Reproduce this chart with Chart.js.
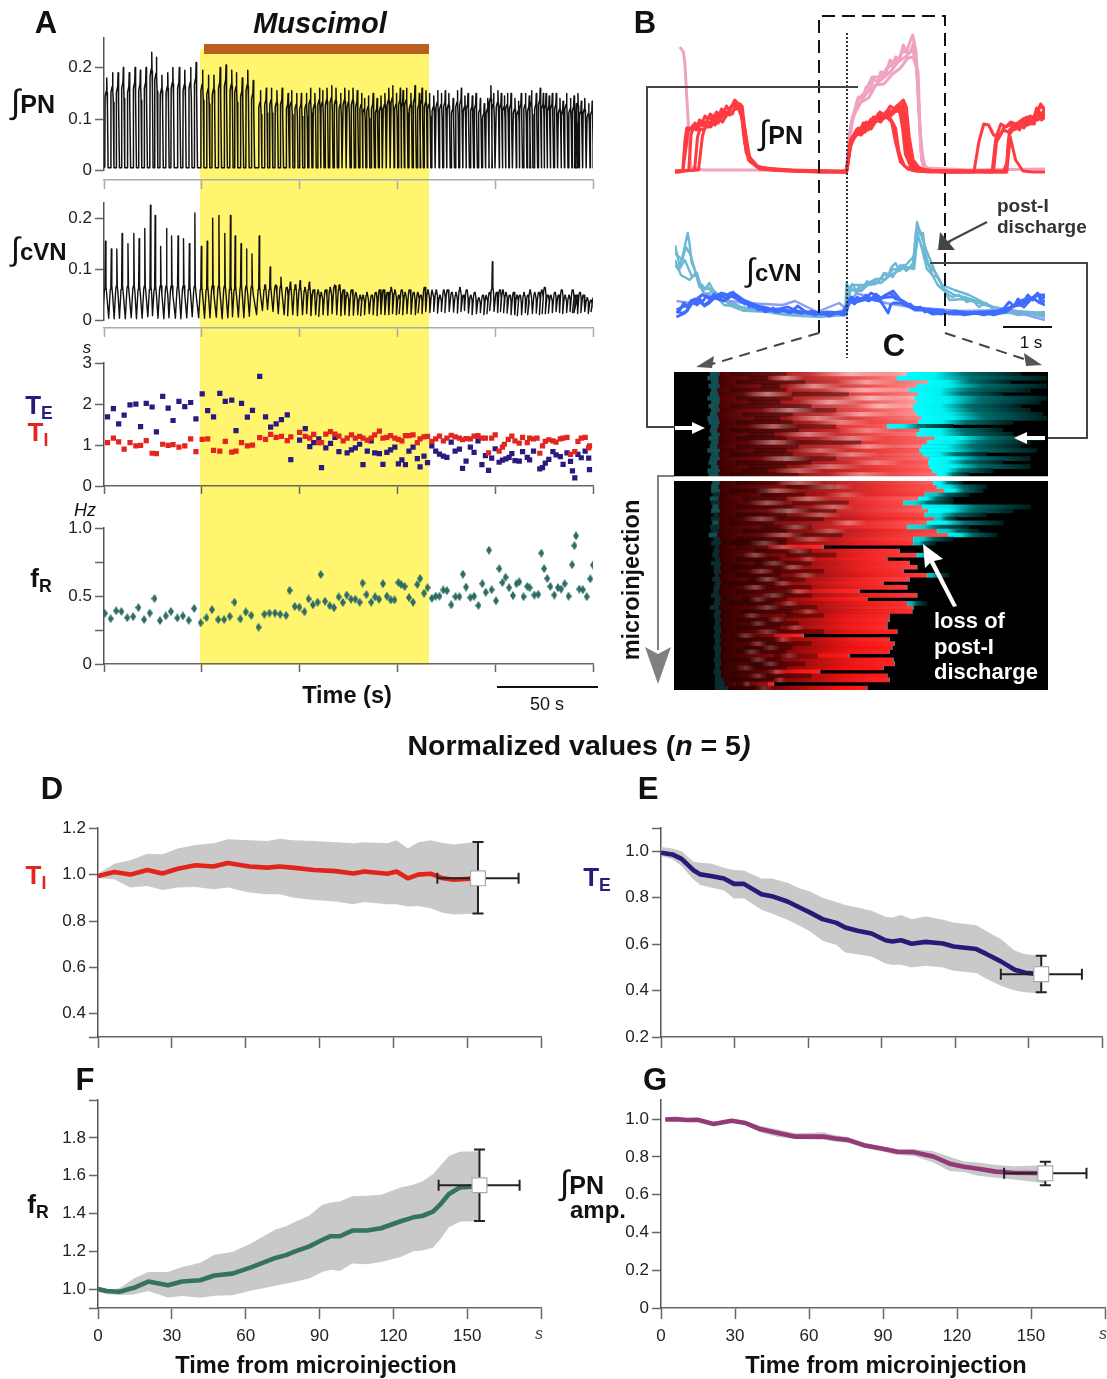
<!DOCTYPE html>
<html>
<head>
<meta charset="utf-8">
<script src="https://cdn.jsdelivr.net/npm/chart.js@4"></script>
<style>
html,body{margin:0;padding:0;background:#fff}
#fig{position:relative;width:1107px;height:1379px;overflow:hidden;font-family:"Liberation Sans",Arial,sans-serif;color:#111}
#fig canvas{position:absolute;z-index:1}
#band{position:absolute;left:200px;top:49px;width:229px;height:616px;background:#FFF56E;z-index:0}
#bar{position:absolute;left:204px;top:44px;width:225px;height:10px;background:#B9601F;z-index:2}
#over{position:absolute;left:0;top:0;z-index:3}
.t{position:absolute;line-height:1;white-space:nowrap;z-index:4;transform:translate(-50%,-50%)}
.l{transform:translate(0,-50%)}
.b{font-weight:bold}
.k{font-size:31px;font-weight:bold}
.sub{font-size:.68em;position:relative;top:.3em}
.int{font-weight:normal;font-size:1.35em}
</style>
</head>
<body>
<div id="fig">
<div id="band"></div><div id="bar"></div>
<svg id="over" width="1107" height="1379">
 <g fill="none" stroke="#111" stroke-width="2" stroke-dasharray="13 7">
  <path d="M819 333V16H945V333"/>
 </g>
 <path d="M847 33V358" stroke="#333" stroke-width="2" stroke-dasharray="2 2" fill="none"/>
 <g fill="none" stroke="#444" stroke-width="2" stroke-dasharray="11 7">
  <path d="M819 333L712 364"/><path d="M945 333L1030 361"/>
 </g>
 <path d="M696 367L714 356L712 368Z" fill="#555"/><path d="M1042 365L1024 353L1026 366Z" fill="#555"/>
 <g fill="none" stroke="#444" stroke-width="2">
  <path d="M858 87H647V427H676"/><path d="M930 263H1087V438H1048"/><path d="M987 222L948 242"/>
 </g>
 <path d="M937 250L953 239L945 250H958Z" fill="#444"/>
 <path d="M940 232L938 250L955 250Z" fill="#444"/>
 <path d="M674 476H658V650" fill="none" stroke="#808080" stroke-width="2"/>
 <path d="M645 647L658 654L671 647L658 684Z" fill="#808080"/>
 <g fill="#fff">
  <path d="M675 426H692V422L705 428L692 434V430H675Z"/>
  <path d="M1045 436H1027V432L1014 438L1027 444V440H1045Z"/>
  <path d="M923 544L943 559L934 561L957 606L953 607L930 563L925 568Z"/>
 </g>
 <rect x="497" y="686" width="101" height="2" fill="#111"/>
 <rect x="1003" y="326" width="49" height="2" fill="#111"/>
</svg>
<div class="t k" style="left:46px;top:22px">A</div>
<div class="t b" style="left:320px;top:23px;font-size:29px;font-style:italic">Muscimol</div>
<div class="t l b" style="left:11px;top:102px;font-size:25px"><span class="int">∫</span>PN</div>
<div class="t l b" style="left:11px;top:249px;font-size:24px"><span class="int">∫</span>cVN</div>
<div class="t" style="left:87px;top:347px;font-size:17px;font-style:italic">s</div>
<div class="t" style="left:85px;top:510px;font-size:18px;font-style:italic">Hz</div>
<div class="t b" style="left:39px;top:405px;font-size:26px;color:#2A1A80">T<span class="sub">E</span></div>
<div class="t b" style="left:38px;top:432px;font-size:26px;color:#E4241F">T<span class="sub">I</span></div>
<div class="t b" style="left:41px;top:578px;font-size:26px">f<span class="sub">R</span></div>
<div class="t b" style="left:347px;top:696px;font-size:23.5px">Time (s)</div>
<div class="t" style="left:547px;top:704px;font-size:18px">50 s</div>
<div class="t k" style="left:645px;top:22px">B</div>
<div class="t l b" style="left:759px;top:133px;font-size:25px"><span class="int">∫</span>PN</div>
<div class="t l b" style="left:746px;top:270px;font-size:24px"><span class="int">∫</span>cVN</div>
<div class="t l b" style="left:997px;top:205px;font-size:19px;color:#333">post-I</div>
<div class="t l b" style="left:997px;top:226px;font-size:19px;color:#333">discharge</div>
<div class="t k" style="left:894px;top:345px">C</div>
<div class="t" style="left:1031px;top:342px;font-size:17px">1 s</div>
<div class="t b" style="left:632px;top:580px;font-size:23.5px;transform:translate(-50%,-50%) rotate(-90deg)">microinjection</div>
<div class="t l b" style="left:934px;top:621px;font-size:22px;color:#fff">loss of</div>
<div class="t l b" style="left:934px;top:647px;font-size:22px;color:#fff">post-I</div>
<div class="t l b" style="left:934px;top:672px;font-size:22px;color:#fff">discharge</div>
<div class="t b" style="left:579px;top:745px;font-size:28.5px">Normalized values (<i>n</i> = 5<i>)</i></div>
<div class="t k" style="left:52px;top:788px">D</div>
<div class="t k" style="left:648px;top:788px">E</div>
<div class="t k" style="left:85px;top:1079px">F</div>
<div class="t k" style="left:655px;top:1079px">G</div>
<div class="t b" style="left:36px;top:875px;font-size:26px;color:#E4241F">T<span class="sub">I</span></div>
<div class="t b" style="left:597px;top:877px;font-size:26px;color:#2A1A80">T<span class="sub">E</span></div>
<div class="t b" style="left:38px;top:1204px;font-size:26px">f<span class="sub">R</span></div>
<div class="t l b" style="left:560px;top:1183px;font-size:25px"><span class="int">∫</span>PN</div>
<div class="t l b" style="left:570px;top:1210px;font-size:24px">amp.</div>
<div class="t" style="left:539px;top:1334px;font-size:16px;font-style:italic;color:#444">s</div>
<div class="t" style="left:1103px;top:1334px;font-size:16px;font-style:italic;color:#444">s</div>
<div class="t b" style="left:316px;top:1366px;font-size:23.6px">Time from microinjection</div>
<div class="t b" style="left:886px;top:1366px;font-size:23.6px">Time from microinjection</div>
</div>
<script>
// panel A, cycle by cycle (s)
const cycleT = [.4,3.4,6.2,8.9,11.9,14.9,17.6,20.5,23.4,25.8,28.6,
 31.6,34.2,37.5,40.3,43.3,46.1,49.4,52.4,55.2,58.4,
 61.4,64.3,66.7,69.7,72.5,75.3,79,82,84.6,87.4,
 90.1,93.1,94.9,97.5,99.9,102.5,104.6,106.8,109.2,110.8,
 113,115.4,117.6,120,122.1,124.1,126.3,128.5,130.7,132.2,
 134.2,136.6,138.6,140.6,142.6,144.6,146.6,148.5,150.5,151.9,
 153.7,155.9,158,160.2,161.6,163.6,165.4,167.6,169.6,171.5,
 173.5,175.3,177.5,179.7,181.7,183.5,185.1,187.3,189.2,191.4,
 193.4,195.2,196.8,198.2,200.4,202.1,203.7,205.3,207.1,209.1,
 210.9,212.3,214.5,216.4,217.6,220,222,223.6,225,226.6,
 228.2,230.2,232.1,233.7,235.5,237.5,239.3,240.5,241.3,243,
 244.8,246.8,248.6,250];
const fR = [.373,.334,.392,.387,.341,.349,.416,.327,.375,.482,.32,
 .354,.387,.339,.354,.322,.409,.303,.341,.40,.327,
 .327,.351,.455,.332,.383,.358,.271,.366,.375,.375,
 .366,.358,.542,.424,.419,.385,.479,.436,.455,.659,
 .462,.429,.414,.494,.453,.508,.477,.477,.455,.596,
 .511,.455,.494,.477,.591,.499,.472,.472,.60,.586,
 .571,.489,.455,.586,.63,.521,.562,.484,.499,.499,
 .545,.54,.436,.496,.496,.661,.567,.489,.499,.431,
 .591,.528,.838,.547,.465,.702,.60,.639,.562,.504,
 .591,.605,.496,.571,.562,.508,.513,.816,.702,.63,
 .571,.508,.562,.552,.591,.499,.731,.872,.944,.552,
 .547,.496,.627,.729];
const pnPeak = [.18,.19,.19,.2,.19,.2,.195,.2,.23,.22,.185,
 .19,.2,.2,.195,.2,.21,.195,.185,.185,.2,
 .205,.195,.19,.18,.195,.175,.155,.16,.16,.155,
 .16,.15,.155,.15,.15,.15,.16,.15,.16,.155,
 .16,.165,.16,.15,.16,.155,.16,.155,.15,.14,
 .145,.15,.14,.145,.15,.16,.165,.15,.16,.155,
 .16,.15,.165,.15,.16,.155,.15,.145,.155,.15,
 .155,.15,.14,.155,.16,.145,.15,.145,.15,.14,
 .13,.14,.165,.15,.155,.15,.145,.15,.15,.14,
 .135,.15,.15,.145,.155,.15,.16,.15,.15,.145,
 .15,.15,.14,.135,.15,.14,.145,.13,.15,.135,
 .14,.13,.135,.135];
const cvnPeak = [.155,.14,.14,.17,.15,.17,.16,.18,.225,.205,.145,
 .18,.165,.165,.16,.15,.21,.145,.155,.2,.205,
 .17,.205,.165,.15,.14,.13,.165,.07,.105,.07,
 .085,.065,.075,.07,.078,.065,.075,.06,.06,.055,
 .06,.065,.07,.07,.06,.055,.06,.055,.05,.05,
 .055,.05,.055,.06,.06,.055,.065,.06,.05,.06,
 .055,.06,.055,.055,.05,.065,.06,.06,.06,.05,
 .06,.06,.055,.055,.065,.05,.06,.05,.055,.045,
 .05,.05,.055,.115,.055,.06,.06,.055,.05,.055,
 .05,.05,.055,.05,.06,.055,.055,.06,.065,.05,
 .05,.055,.05,.06,.05,.05,.06,.05,.05,.055,
 .05,.045,.04,.045];
const cvnFloor = [.012,.005,.004,.005,.004,.006,.004,.005,.008,.01,.005,
 .004,.006,.005,.004,.006,.008,.006,.005,.006,.007,
 .004,.006,.008,.007,.006,.009,.012,.02,.022,.018,
 .014,.012,.01,.012,.01,.012,.014,.01,.012,.009,
 .012,.011,.014,.012,.01,.012,.01,.011,.012,.01,
 .012,.014,.012,.01,.013,.012,.012,.014,.012,.014,
 .012,.014,.013,.012,.016,.014,.018,.016,.018,.015,
 .018,.016,.018,.017,.015,.018,.02,.015,.012,.014,
 .016,.012,.014,.02,.018,.016,.018,.016,.015,.012,
 .012,.01,.012,.016,.012,.014,.015,.012,.014,.014,
 .015,.016,.018,.016,.014,.016,.018,.016,.016,.014,
 .016,.018,.014,.018];

const teT = [1.8,4.8,7.5,10.3,13.3,16.3,18.7,21.6,24.6,26.8,30,32.8,35.3,38.3,41.3,44.3,47,50.2,53,56,59.2,62,65.3,67.5,70.3,73.3,75.9,79.6,82.6,85.2,88,90.7,93.7,95.5,100,102.9,105.2,107.2,109.8,111.2,113.4,115.8,118.1,120.1,124.3,126.5,128.5,130.7,132.4,134.6,136.6,138.4,140.8,142.6,144.6,146.5,148.7,150.5,152.3,154.1,155.9,158,160.2,161.6,163.6,165.4,167.6,169.6,171.5,173.5,175.3,177.5,179.5,181.7,183.3,185.1,187.3,189.2,191.2,193.2,195,196.6,198.2,200,202,203.7,205.5,207.1,208.5,210.1,212.3,214,216.4,217.6,219.6,222.8,224.2,225.6,227.4,229.5,231.1,233.3,234.7,236.7,238.5,239.5,240.7,242.3,244,246,247.8,248.2];
const te = [1.69,1.89,1.52,1.73,1.98,2.0,1.45,2.02,1.93,1.32,2.19,1.90,1.60,2.07,1.94,2.04,1.64,2.25,1.84,1.69,2.26,2.07,2.10,1.35,2.02,1.68,1.85,2.68,1.69,1.44,1.52,1.62,1.74,.645,1.12,1.40,.96,1.06,1.15,.45,.93,1.04,1.19,.84,.81,.88,.93,1.02,.52,.85,1.10,.81,.79,.53,.82,.88,.95,.54,.64,.52,.85,.95,.67,.47,.73,.57,.98,.85,.78,.73,.70,1.07,.85,.90,.43,.61,.95,.82,1.10,.52,.74,.38,.68,.91,.58,.63,.66,.70,.79,.62,.61,.84,.70,.64,.85,.42,.45,.56,.65,.84,.76,.72,.53,.81,.60,.37,.20,.77,.69,.85,.68,.40];
const tiT = [1.8,4.8,7.5,10.3,13.3,16.3,18.7,21.6,24.6,26.8,30,32.8,35.3,38.3,41.3,44.3,47,50.2,53,56,59.2,62,65.3,67.5,70.3,73.3,75.9,79.6,82.6,85.2,88,90.7,93.7,95.5,100,102.9,105.2,107.2,109.8,111.2,113.4,115.8,118.1,120.1,122.3,124.3,126.5,128.5,130.7,132.4,134.6,136.6,138.4,140.8,142.6,144.6,146.5,148.7,150.5,152.3,154.1,155.9,158,160.2,161.6,163.6,165.4,167.6,169.6,171.5,173.5,175.3,177.5,179.5,181.7,183.3,185.1,187.3,189.2,191.2,193.2,195,196.6,198.2,200,202,203.7,204.7,206.7,208.5,210.1,212.3,214,216.4,217.6,219.6,221.4,222.8,224.2,225.6,227.4,229.5,231.1,233.3,234.7,236.7,238.5,240.7,242.3,244,246,247.8,248.2];
const ti = [1.06,1.17,1.08,.90,1.06,.98,.99,1.11,.80,.79,1.02,.99,1.01,.95,.98,1.15,.84,1.14,1.15,.87,.85,1.09,.83,.85,1.06,.98,1.0,1.18,1.14,1.26,1.19,1.21,1.11,1.20,1.31,1.21,1.17,1.26,1.06,1.06,1.27,1.33,1.27,1.22,1.10,1.17,1.25,1.17,1.21,1.17,1.12,1.17,1.25,1.34,1.17,1.19,1.23,1.17,1.14,1.10,1.23,1.23,1.25,1.06,1.15,1.20,1.21,1.09,1.15,1.22,1.10,1.17,1.24,1.20,1.17,1.13,1.16,1.15,1.22,1.23,1.17,1.17,.81,1.17,1.25,.85,.95,1.02,1.14,1.22,1.10,1.05,1.19,1.06,1.17,1.15,1.17,.80,.98,1.09,1.13,1.10,1.07,1.15,1.17,1.19,.77,.84,1.09,1.17,1.19,.93,.98];

const aXTicks = [0,50,100,150,200,250];
const pnYTicks = [0,.1,.2], pnYText = ['0','0.1','0.2'];
const tYTicks = [0,1,2,3], tYText = ['0','1','2','3'];
const fYTicks = [0,.25,.5,.75,1], fYText = ['0','','0.5','','1.0'];

// panel B overlaid cycles: [s, a.u.]
const pinkTraces = [
 [[.1,1.25],[.17,1.2],[.2,1.1],[.24,.75],[.27,.5],[.32,.05],[.58,.02],[1.5,.02],[3.4,.01],[3.5,.02],[3.57,.4],[3.74,.75],[3.82,.72],[3.9,.85],[3.98,.82],[4.05,.93],[4.14,.9],[4.2,1.0],[4.3,.98],[4.39,1.12],[4.45,1.08],[4.5,1.15],[4.58,1.12],[4.66,1.27],[4.72,1.2],[4.78,1.28],[4.85,1.37],[4.92,1.2],[4.97,.72],[5.03,.12],[5.1,.04],[6,.02],[7.55,.03]],
 [[3.5,.02],[3.6,.5],[3.75,.68],[3.9,.78],[4.05,.85],[4.2,.92],[4.39,1.0],[4.55,1.1],[4.7,1.15],[4.85,1.22],[4.93,1.05],[4.99,.5],[5.05,.08],[5.2,.02]],
 [[3.5,.02],[3.58,.45],[3.72,.72],[3.88,.8],[4.02,.95],[4.2,.95],[4.34,1.05],[4.5,1.08],[4.64,1.2],[4.8,1.2],[4.88,1.3],[4.95,.9],[5.02,.2],[5.12,.03]],
 [[3.52,.02],[3.62,.55],[3.8,.7],[3.95,.74],[4.1,.87],[4.26,.88],[4.44,.98],[4.6,1.04],[4.75,1.14],[4.86,1.15],[4.96,1.0],[5.0,.4],[5.08,.05],[5.3,.02]]
];
const redTraces = [
 [[0,0],[.1,0],[.16,.02],[.2,.3],[.24,.44],[.3,.42],[.36,.46],[.41,.49],[.46,.46],[.5,.52],[.56,.5],[.61,.56],[.66,.53],[.72,.58],[.78,.55],[.85,.6],[.9,.57],[.95,.63],[1,.6],[1.05,.66],[1.1,.62],[1.15,.65],[1.22,.72],[1.3,.68],[1.37,.66],[1.42,.45],[1.48,.22],[1.56,.1],[1.73,.03],[2.28,.01],[2.96,0],[3.48,0],[3.53,.1],[3.58,.32],[3.66,.38],[3.72,.43],[3.78,.41],[3.84,.49],[3.92,.46],[4,.53],[4.08,.5],[4.18,.6],[4.28,.57],[4.39,.66],[4.48,.63],[4.55,.67],[4.66,.72],[4.72,.65],[4.78,.35],[4.86,.12],[5,.03],[5.5,0],[6.76,0],[6.8,.3],[6.86,.44],[6.97,.45],[7.03,.42],[7.1,.5],[7.17,.47],[7.24,.55],[7.31,.52],[7.38,.64],[7.46,.58],[7.55,.6]],
 [[0,.01],[.16,.01],[.24,.3],[.27,.44],[.34,.43],[.4,.46],[.47,.44],[.55,.5],[.62,.48],[.7,.55],[.77,.52],[.85,.56],[.92,.55],[1,.62],[1.06,.58],[1.12,.62],[1.2,.68],[1.33,.68],[1.4,.42],[1.45,.2],[1.52,.12],[1.7,.04],[2.4,.02],[3.1,.01],[3.5,0],[3.56,.2],[3.62,.35],[3.7,.38],[3.8,.42],[3.88,.4],[3.95,.47],[4.02,.45],[4.1,.55],[4.2,.52],[4.3,.6],[4.4,.58],[4.5,.64],[4.58,.6],[4.65,.68],[4.7,.5],[4.76,.2],[4.9,.06],[5.1,.01],[5.6,0],[6.7,.01],[6.78,.1],[6.83,.42],[6.92,.44],[7,.48],[7.12,.44],[7.2,.5],[7.26,.52],[7.33,.48],[7.4,.6],[7.48,.52],[7.55,.55]],
 [[0,0],[.28,.02],[.33,.38],[.38,.44],[.44,.42],[.5,.48],[.56,.46],[.62,.5],[.7,.49],[.76,.52],[.83,.5],[.9,.58],[.96,.55],[1.02,.6],[1.08,.58],[1.15,.66],[1.27,.66],[1.36,.55],[1.42,.3],[1.5,.12],[1.65,.06],[2,.02],[3,0],[3.5,0],[3.58,.3],[3.64,.34],[3.7,.42],[3.78,.4],[3.86,.44],[3.94,.42],[4.02,.52],[4.1,.5],[4.2,.55],[4.28,.54],[4.36,.62],[4.44,.6],[4.5,.62],[4.62,.66],[4.68,.4],[4.74,.16],[4.85,.06],[5.02,.02],[5.5,.01],[6.47,0],[6.55,.35],[6.65,.48],[6.75,.45],[6.85,.5],[7,.47],[7.1,.53],[7.2,.55],[7.28,.5],[7.35,.52],[7.45,.66],[7.55,.63]],
 [[0,0],[.4,.02],[.46,.35],[.51,.43],[.58,.42],[.66,.46],[.73,.45],[.8,.5],[.88,.49],[.95,.56],[1.02,.54],[1.1,.6],[1.17,.58],[1.22,.64],[1.33,.67],[1.38,.5],[1.44,.25],[1.54,.1],[1.8,.03],[2.5,.01],[3.5,.01],[3.57,.25],[3.62,.3],[3.68,.4],[3.75,.38],[3.82,.46],[3.9,.44],[4,.5],[4.07,.49],[4.14,.58],[4.22,.56],[4.3,.56],[4.42,.5],[4.5,.3],[4.6,.1],[4.75,.03],[4.9,.01],[5.2,0],[6.1,0],[6.2,.3],[6.3,.48],[6.4,.47],[6.5,.37],[6.62,.36],[6.72,.45],[6.9,.48],[7.1,.46],[7.25,.56],[7.4,.52],[7.55,.58]],
 [[0,.01],[.48,.02],[.56,.36],[.62,.46],[.68,.45],[.75,.5],[.82,.47],[.9,.53],[.97,.5],[1.05,.58],[1.12,.57],[1.2,.62],[1.34,.65],[1.43,.42],[1.52,.15],[1.7,.05],[2.2,.02],[3.5,0],[3.6,.3],[3.67,.36],[3.75,.4],[3.82,.42],[3.9,.5],[3.97,.47],[4.05,.55],[4.15,.54],[4.25,.56],[4.4,.53],[4.5,.44],[4.57,.2],[4.68,.06],[4.84,.02],[5,.01],[6.77,.0],[6.84,.35],[6.95,.12],[7.1,.01],[7.3,0],[7.55,0]],
 [[3.5,0],[3.58,.28],[3.65,.33],[3.72,.38],[3.8,.37],[3.92,.44],[4,.43],[4.1,.52],[4.2,.5],[4.3,.58],[4.38,.55],[4.48,.6],[4.58,.62],[4.64,.45],[4.7,.18],[4.82,.04],[5.2,.01],[5.8,.01],[6.76,.01],[6.82,.38],[6.9,.42],[7,.44],[7.1,.47],[7.2,.5],[7.28,.48],[7.36,.58],[7.45,.55],[7.55,.64]],
 [[3.5,.01],[3.6,.33],[3.67,.37],[3.74,.44],[3.84,.42],[3.95,.5],[4.05,.47],[4.15,.56],[4.25,.53],[4.35,.62],[4.45,.6],[4.52,.66],[4.66,.64],[4.72,.42],[4.8,.15],[4.95,.05],[5.15,.01],[6.5,.01],[6.56,.3],[6.7,.42],[6.8,.4],[6.9,.46],[7.08,.52],[7.2,.47],[7.3,.5],[7.46,.68],[7.55,.62]]
];
const skyTraces = [
 [[0,.7],[.1,.48],[.17,.62],[.26,.82],[.3,.7],[.34,.52],[.4,.46],[.48,.32],[.55,.3],[.62,.26],[.7,.32],[.78,.25],[.85,.2],[.95,.22],[1.05,.13],[1.19,.08],[1.4,.04],[1.7,.06],[2,.02],[2.28,0],[2.96,-.02],[3.47,0],[3.5,.32],[3.56,.26],[3.62,.31],[3.7,.24],[3.75,.28],[3.84,.27],[3.92,.34],[4,.3],[4.1,.36],[4.18,.35],[4.26,.42],[4.34,.38],[4.42,.48],[4.5,.52],[4.58,.44],[4.66,.5],[4.76,.46],[4.85,.48],[4.94,.93],[5,.82],[5.06,.82],[5.1,.64],[5.16,.52],[5.24,.46],[5.32,.42],[5.4,.35],[5.46,.28],[5.53,.22],[5.65,.18],[5.8,.2],[5.95,.13],[6.07,.15],[6.2,.08],[6.35,.12],[6.5,.05],[6.69,.02],[7.1,.02],[7.55,0]],
 [[0,.5],[.08,.45],[.2,.55],[.35,.38],[.45,.42],[.55,.25],[.7,.27],[.85,.2],[1.1,.14],[1.4,.07],[2,.03],[3,0],[3.5,.05],[3.55,.28],[3.7,.23],[3.9,.3],[4.1,.31],[4.3,.42],[4.44,.38],[4.6,.5],[4.72,.44],[4.86,.52],[4.92,.85],[5.02,.7],[5.14,.46],[5.25,.4],[5.36,.3],[5.5,.24],[5.6,.15],[5.9,.16],[6.2,.12],[6.6,.06],[7,0],[7.55,.03]],
 [[0,.55],[.12,.4],[.3,.35],[.42,.42],[.6,.2],[.8,.24],[1,.15],[1.5,.04],[2.5,.02],[3.5,0],[3.57,.25],[3.8,.24],[4,.33],[4.2,.32],[4.4,.4],[4.55,.44],[4.7,.48],[4.88,.46],[4.95,.8],[5.1,.6],[5.25,.4],[5.35,.38],[5.5,.26],[5.7,.2],[5.9,.18],[6.5,.08],[7.2,.02],[7.55,-.02]],
 [[0,.62],[.15,.55],[.22,.68],[.32,.6],[.5,.28],[.7,.26],[1,.1],[1.8,.05],[2.6,-.01],[3.5,.02],[3.6,.3],[3.85,.3],[4.1,.36],[4.3,.36],[4.45,.46],[4.6,.45],[4.75,.52],[4.9,.6],[4.98,.86],[5.12,.66],[5.3,.44],[5.45,.3],[5.7,.25],[6,.2],[6.6,.05],[7.55,.02]]
];
const blueTraces = [
 [[.03,.02],[.1,.05],[.18,.12],[.25,.08],[.32,.14],[.4,.11],[.48,.17],[.56,.13],[.64,.19],[.72,.15],[.8,.21],[.88,.17],[.96,.2],[1.04,.16],[1.12,.22],[1.2,.18],[1.28,.19],[1.36,.13],[1.44,.14],[1.52,.08],[1.6,.1],[1.7,.05],[1.8,.08],[1.9,.04],[2,.07],[2.1,.03],[2.2,.06],[2.3,.03],[2.4,.05],[2.55,.02],[2.7,.03],[2.85,0],[3,.02],[3.15,-.01],[3.3,.02],[3.42,0],[3.5,.04],[3.56,.14],[3.64,.12],[3.72,.18],[3.8,.15],[3.9,.2],[4,.16],[4.1,.21],[4.2,.17],[4.3,.2],[4.4,.22],[4.5,.16],[4.6,.15],[4.7,.1],[4.8,.11],[4.9,.06],[5,.08],[5.1,.03],[5.2,.06],[5.3,.02],[5.45,.05],[5.6,.01],[5.75,.03],[5.9,0],[6.1,.02],[6.3,0],[6.5,.03],[6.7,.06],[6.82,.13],[6.92,.09],[7,.16],[7.1,.12],[7.2,.2],[7.3,.15],[7.4,.21],[7.5,.16],[7.55,.19]],
 [[.05,.03],[.15,.02],[.25,.04],[.3,.1],[.35,.15],[.45,.1],[.52,.14],[.6,.09],[.7,.12],[.8,.17],[.9,.16],[1,.21],[1.1,.19],[1.18,.23],[1.3,.18],[1.42,.11],[1.5,.12],[1.6,.08],[1.75,.06],[1.85,.03],[1.95,.05],[2.1,.03],[2.25,.05],[2.45,.03],[2.6,.02],[2.8,.04],[3,.01],[3.2,.03],[3.45,0],[3.55,.15],[3.66,.11],[3.8,.17],[3.95,.14],[4.1,.18],[4.22,.12],[4.35,.02],[4.4,.1],[4.45,.12],[4.6,.12],[4.75,.09],[4.9,.05],[5.1,.05],[5.25,.01],[5.5,.02],[5.7,.04],[6,.02],[6.25,.03],[6.5,0],[6.75,.03],[7,.12],[7.12,.08],[7.25,.15],[7.4,.22],[7.47,.13],[7.55,.14]],
 [[.03,-.02],[.2,.02],[.3,.08],[.4,.16],[.6,.1],[.8,.17],[1,.14],[1.15,.19],[1.3,.15],[1.5,.1],[1.7,.08],[1.9,.05],[2.1,.06],[2.3,.08],[2.5,.04],[2.8,.01],[3.1,.03],[3.47,.01],[3.56,.16],[3.7,.13],[3.95,.16],[4.15,.14],[4.3,.2],[4.45,.24],[4.6,.15],[4.7,.12],[4.85,.08],[5.1,.06],[5.4,.01],[5.7,.03],[6.1,.02],[6.4,.01],[6.65,.04],[6.9,.09],[7.05,.1],[7.3,.17],[7.45,.12],[7.55,.1]],
 [[.03,.05],[.15,.08],[.3,.1],[.45,.15],[.55,.2],[.75,.17],[.95,.22],[1.1,.2],[1.25,.2],[1.4,.15],[1.55,.12],[1.7,.09],[1.9,.07],[2.05,.03],[2.2,.05],[2.35,.02],[2.5,.09],[2.7,.02],[3,.01],[3.2,.02],[3.42,.03],[3.6,.18],[3.75,.14],[3.9,.17],[4,.22],[4.2,.17],[4.35,.18],[4.5,.18],[4.65,.14],[4.85,.08],[5,.06],[5.2,.05],[5.4,.05],[5.65,.01],[6,.01],[6.35,.03],[6.7,.04],[6.95,.1],[7.1,.15],[7.25,.16],[7.4,.2],[7.55,.2]]
];
const lilacTraces = [
 [[.03,.14],[.3,.12],[.6,.22],[1,.15],[1.4,.12],[2.2,.1],[2.45,.14],[2.9,.03],[3.35,.12],[3.5,.06],[3.7,.22],[4.3,.12],[4.8,.08],[5.8,.04],[6.8,.05],[7.55,-.05]]
];

// panel C, one row per cycle (s)
const cOn = [.29,.27,.3,.28,.3,.29,.27,.3,.28,.3,.29,.27,.28,.3,.29,.3,.28,.3,.29,.27,.3,.29,.28,.3,.27,.28,
 .31,.3,.3,.31,.29,.3,.31,.3,.32,.3,.31,.29,.3,.28,.32,.3,.33,.32,.31,.33,.3,.32,.32,.33,.31,.33,.32,.32,.3,.33,.32,.29,.33,.32,.33,.33,.32,.33,.32,.33,.33,.32,.33,.33,.32,.33,.33,.32,.33,.33,.33,.33];
const cRedStart = [.37,.36,.36,.37,.35,.36,.37,.37,.36,.37,.35,.36,.37,.36,.35,.37,.36,.36,.35,.37,.36,.37,.35,.36,.37,.36,
 .37,.36,.37,.37,.36,.37,.36,.37,.36,.37,.36,.37,.36,.35,.37,.38,.36,.37,.36,.37,.38,.37,.38,.36,.37,.38,.37,.36,.37,.38,.37,.36,.38,.37,.38,.37,.38,.38,.37,.38,.37,.38,.38,.37,.38,.38,.37,.38,.38,.4,.41,.44];
const cRedEnd = [1.87,1.79,2.04,1.95,1.89,1.96,1.93,1.95,1.92,1.93,1.95,1.99,1.96,1.71,1.97,1.95,2.09,2.03,1.99,1.97,2.0,2.05,2.04,2.05,2.07,2.11,
 2.08,2.11,2.17,2.01,1.96,1.84,1.99,2.04,2.01,2.09,2.03,1.87,2.11,2.2,1.92,
 1.92,1.2,1.81,1.95,1.71,1.89,1.95,1.84,2.03,1.89,1.68,1.87,1.49,1.95,1.55,1.87,1.92,1.91,1.73,1.73,1.71,1.71,1.79,1.04,1.73,1.77,1.75,1.73,1.41,1.76,1.77,1.68,1.17,1.71,1.73,.8,1.55];
const n = null;
const cCyanEnd = [2.78,2.99,2.7,2.99,2.86,2.64,2.99,2.94,2.78,2.86,2.96,2.99,2.72,2.24,2.64,2.72,2.96,2.86,2.78,2.91,2.51,2.86,2.64,2.86,2.56,2.37,
 2.32,2.51,2.48,2.37,2.24,2.24,2.86,2.72,2.51,2.27,2.64,2.37,2.45,2.59,2.24,
 2.1,n,n,2.12,n,n,n,n,2.21,n,n,n,n,n,n,2.03,n,n,n,n,n,n,n,n,n,n,n,n,n,n,n,n,n,n,n,n,n];
const cBright = [.95,.7,.8,.75,.85,.7,.95,.85,.9,.75,.8,.7,.6,.5,.55,.65,.6,.55,.7,.5,.6,.65,.5,.55,.5,.6,
 .5,.45,.5,.35,.55,.4,.45,.55,.4,.35,.5,.4,.35,.45,.35,
 .3,.25,.3,.35,.25,.3,.35,.25,.3,.35,.25,.3,.25,.3,.2,.25,.3,.25,.2,.25,.2,.25,.2,.2,.25,.2,.15,.2,.15,.2,.2,.15,.2,.15,.2,.15,.15];
// lighter and darker streaks inside the red part of each row
const cLightS = [1.1,.75,1.3,.9,1.2,.55,1.35,1.0,1.45,.7,1.25,.9,1.1,.6,1.3,.85,1.15,.6,1.35,.95,1.2,.7,1.4,1.0,.8,1.25,
 .8,1.05,.65,1.2,.9,.6,1.1,.75,1.0,.55,1.25,.85,1.1,.7,.95,
 .6,.75,.9,.55,1.0,.7,.85,.6,.95,.65,.8,.55,.9,.7,.6,.85,.65,1.0,.55,.75,.6,.9,.65,.5,.8,.6,.7,.55,.85,.6,.7,.5,.75,.6,.8,.55,.65];
const cLightE = [1.75,1.05,1.8,1.35,1.85,.95,1.8,1.5,1.85,1.15,1.75,1.4,1.6,1.0,1.8,1.3,1.7,1.0,1.75,1.4,1.65,1.1,1.85,1.5,1.2,1.75,
 1.2,1.45,1.0,1.55,1.25,.9,1.45,1.1,1.35,.85,1.55,1.1,1.4,1.05,1.25,
 .85,1.0,1.1,.75,1.15,.9,1.05,.8,1.15,.85,.95,.75,1.1,.9,.75,1.0,.85,1.15,.7,.9,.75,1.05,.85,.65,.95,.75,.85,.7,1.0,.75,.85,.65,.9,.75,.9,.62,.8];
const cDarkS = [.45,.6,.5,.7,.45,.95,.5,.6,.45,.8,.55,.65,.5,.85,.45,.6,.5,.9,.5,.65,.45,.85,.5,.6,.55,.45,
 .5,.9,.45,.7,.55,.95,.5,.85,.5,.8,.45,.7,.55,.95,.5,
 .45,.5,.65,.9,.5,.65,.45,.8,.5,.6,.45,.7,.5,.75,.55,.45,.7,.55,.9,.5,.6,.5,.75,.45,.5,.7,.55,.5,.8,.45,.6,.55,.45,.7,.45,.5,.45];
const cDarkE = [.9,.75,1.05,.85,.9,1.4,.95,.85,1.1,1.3,.95,.85,.95,1.3,1.0,.8,.9,1.5,1.0,.9,.95,1.3,1.1,.9,.75,1.0,
 .85,1.3,.75,1.05,.9,1.4,.95,1.3,.9,1.2,.8,1.1,.9,1.35,.9,
 .9,.75,1.1,1.3,.85,1.1,.9,1.2,.85,1.05,.8,1.1,.95,1.1,.9,.8,1.15,.95,1.2,.9,1.0,.85,1.2,.8,.85,1.1,.95,.9,1.15,.85,1.05,.9,.8,1.1,.8,.75,.75];

// panel D
const dT = [0,6.6,13.1,20,26.2,32.4,39.7,46.9,52.8,61.5,68.8,73.9,79,87.8,96.5,103.8,108.2,117.6,121.3,125.9,130,135.1,140.2,144.6,154.4];
const dMean = [.994,1.011,1.0,1.02,1.005,1.025,1.04,1.035,1.05,1.035,1.03,1.035,1.03,1.02,1.015,1.005,1.013,1.004,1.013,.984,1.0,1.004,.984,.978,.984];
const dHigh = [1.004,1.047,1.062,1.09,1.088,1.113,1.128,1.135,1.152,1.148,1.145,1.155,1.148,1.145,1.139,1.135,1.139,1.135,1.148,1.112,1.138,1.148,1.136,1.13,1.142];
const dLow = [.984,.98,.944,.951,.934,.944,.947,.937,.944,.923,.915,.915,.901,.89,.884,.872,.882,.872,.872,.862,.865,.855,.836,.828,.832];
const dYTicks = [.3,.4,.6,.8,1,1.2], dYText = ['','0.4','0.6','0.8','1.0','1.2'];
const dMark = {t:154.4,v:.984,tLo:137.9,tHi:170.9,vLo:.832,vHi:1.14};
// panel E
const eT = [0,4.6,8.4,13.1,16,20.3,25.7,29.8,33.8,41,45.2,51.6,56.6,60.9,65.9,71.6,75.2,80.2,85.9,91.6,94.4,98,102.3,108,115.1,119.4,128.7,133,138.7,144.4,148.6,155.2];
const eMean = [.994,.987,.968,.92,.901,.894,.883,.86,.86,.815,.807,.784,.758,.736,.708,.692,.672,.658,.646,.617,.612,.617,.602,.61,.603,.59,.579,.557,.526,.49,.477,.471];
const eHigh = [1.019,1.013,1.001,.956,.951,.948,.93,.92,.918,.883,.883,.865,.84,.827,.80,.782,.769,.758,.744,.718,.715,.726,.708,.719,.705,.693,.682,.655,.622,.572,.557,.55];
const eLow = [.98,.966,.937,.88,.855,.844,.832,.797,.798,.748,.732,.705,.679,.655,.615,.597,.564,.557,.547,.517,.511,.511,.50,.507,.50,.486,.476,.45,.421,.40,.393,.388];
const eYTicks = [.2,.4,.6,.8,1,1.1], eYText = ['0.2','0.4','0.6','0.8','1.0',''];
const eMark = {t:155.2,v:.471,tLo:138.7,tHi:171.8,vLo:.393,vHi:.55};
// panel F
const fT = [0,3.6,8.7,14.6,20.4,28.4,34.2,41.5,47.3,54.6,61.9,72.1,76.4,80.1,85.9,91,94.6,98.3,103.3,109.2,115,123,128.1,131.7,136.1,139,142.6,147,155];
const fMean = [1,.99,.986,1.007,1.04,1.02,1.04,1.047,1.072,1.082,1.114,1.165,1.18,1.2,1.226,1.26,1.28,1.28,1.31,1.31,1.322,1.359,1.38,1.387,1.41,1.447,1.503,1.538,1.545];
const fHigh = [1.007,.995,1.004,1.056,1.091,1.091,1.117,1.14,1.182,1.196,1.24,1.315,1.333,1.357,1.389,1.445,1.459,1.464,1.492,1.494,1.499,1.538,1.552,1.569,1.608,1.652,1.704,1.727,1.73];
const fLow = [.986,.974,.968,.972,.99,.956,.963,.954,.965,.968,.991,1.018,1.03,1.039,1.056,1.091,1.103,1.096,1.135,1.131,1.144,1.17,1.201,1.205,1.219,1.263,1.327,1.357,1.361];
const fTicks = [.9,1,1.2,1.4,1.6,1.8,2], fTickText = ['','1.0','1.2','1.4','1.6','1.8',''];
const fMark = {t:155,v:1.55,tLo:138.4,tHi:171.3,vLo:1.361,vHi:1.739};
// panel G
const gT = [1.7,6.1,10.4,14.8,21.3,28.6,34.3,40.1,47.4,54.6,66.2,70.6,75.7,82.2,89.4,95.9,102.5,110.4,117,122.8,128.6,135.8,143,155.8];
const gMean = [.998,1.0,.995,.996,.974,.991,.979,.947,.926,.907,.907,.897,.89,.862,.844,.827,.825,.802,.764,.748,.737,.722,.716,.713];
const gHigh = [1.001,1.003,.998,.999,.977,.994,.99,.965,.945,.925,.93,.915,.905,.875,.855,.84,.84,.83,.80,.775,.77,.757,.75,.755];
const gLow = [.995,.997,.992,.993,.971,.988,.97,.93,.905,.895,.89,.88,.875,.85,.83,.81,.805,.77,.725,.72,.70,.69,.68,.66];
const gYTicks = [0,.2,.4,.6,.8,1], gYText = ['0','0.2','0.4','0.6','0.8','1.0'];
const gMark = {t:155.8,v:.713,tLo:139.1,tHi:172.5,vLo:.65,vHi:.774};

const minXTicks = [0,30,60,90,120,150,180], minXText = ['0','30','60','90','120','150',''];

const fig = document.getElementById('fig');
const tickFont = {family:'"Liberation Sans"',size:17};
const zip = (a,b) => a.map((v,i)=>({x:v,y:b[i]}));

function scaleX(min,max,ticks,text,opt){
    opt = opt || {};
    return {type:'linear',min:min,max:max,
        afterBuildTicks: s => { s.ticks = ticks.map(v=>({value:v})); },
        afterFit: s => { s.height = opt.h; },
        grid:{drawOnChartArea:false,tickLength:opt.len||10,tickWidth:1.5,color:opt.color||'#666'},
        border:{color:opt.color||'#666',width:1.5},
        ticks:{display:!!text,autoSkip:false,maxRotation:0,padding:7,font:tickFont,color:'#222',callback:(v,i)=>text?text[i]:''}};
}
function scaleY(min,max,ticks,text,opt){
    opt = opt || {};
    return {type:'linear',min:min,max:max,
        afterBuildTicks: s => { s.ticks = ticks.map(v=>({value:v})); },
        afterFit: s => { s.width = opt.w; },
        grid:{drawOnChartArea:false,tickLength:opt.len||9,tickWidth:1.5,color:opt.color||'#666'},
        border:{color:opt.color||'#555',width:1.5},
        ticks:{autoSkip:false,padding:3,font:tickFont,color:'#222',callback:(v,i)=>text[i]}};
}
const hidden = (min,max) => ({type:'linear',min:min,max:max,display:false});

// rect is the plot area in page pixels
function panel(rect,m,type,datasets,scales,extra){
    const c = document.createElement('canvas');
    c.width = rect.x1-rect.x0+m.l+m.r;
    c.height = rect.y1-rect.y0+m.t+m.b;
    c.style.left = (rect.x0-m.l)+'px';
    c.style.top = (rect.y0-m.t)+'px';
    fig.appendChild(c);
    if(scales.x.afterFit) { const h=m.b; scales.x.afterFit = s => { s.height=h; }; }
    if(scales.y.afterFit) { const w=m.l; scales.y.afterFit = s => { s.width=w; }; }
    const opts = Object.assign({responsive:false,animation:false,events:[],
        layout:{padding:{left:scales.y.display===false?m.l:0,top:m.t,right:m.r,bottom:scales.x.display===false?m.b:0}},
        plugins:{legend:{display:false},tooltip:{enabled:false}},
        scales:scales},extra||{});
    return new Chart(c,{type:type,data:{datasets:datasets},options:opts});
}

// expands cycle peaks into a drawn burst
function burstTrace(peaks,floors,shoulder){
    const pts = [];
    cycleT.forEach((t,i)=>{
        const p = peaks[i], f = floors[i];
        if(shoulder){
            const s = Math.min(p,.068);
            pts.push({x:t-1,y:f},{x:t-.2,y:s*.9},{x:t+.1,y:s},{x:t+.35,y:p},{x:t+.6,y:s},{x:t+1,y:s*.75});
        }else{
            pts.push({x:t,y:f},{x:t+.15,y:p*.8},{x:t+.8,y:p*.86},{x:t+1,y:p},{x:t+1.15,y:p*.84},{x:t+1.35,y:p*.7},{x:t+1.7,y:f});
        }
    });
    return pts;
}
const pnFloor = cycleT.map(()=>.006);

const diamond = document.createElement('canvas');
diamond.width = 6; diamond.height = 9;
(function(){
    const g = diamond.getContext('2d');
    g.fillStyle = '#2E6D65';
    g.beginPath(); g.moveTo(3,0); g.lineTo(6,4.5); g.lineTo(3,9); g.lineTo(0,4.5); g.closePath(); g.fill();
})();

const lineSet = (data,color,w) => ({data:data,showLine:true,borderColor:color,borderWidth:w,pointRadius:0,tension:0,fill:false,borderJoinStyle:'round'});
const dotSet = (data,color,style,r) => ({data:data,showLine:false,backgroundColor:color,borderWidth:0,pointStyle:style,pointRadius:r});

// panel A
panel({x0:103.5,y0:37.3,x1:593,y1:172.3},{l:55,r:14,t:12,b:12},'scatter',
    [lineSet(burstTrace(pnPeak,pnFloor,false),'#141210',1.5)],
    {x:hidden(0,250),y:scaleY(0,.257,pnYTicks,pnYText,{w:55})});
panel({x0:103.5,y0:179,x1:593,y1:180},{l:55,r:14,t:2,b:14},'scatter',[],
    {x:scaleX(0,250,aXTicks,null,{h:14,color:'#aaa',len:9}),y:hidden(0,1)});
panel({x0:103.5,y0:201.7,x1:593,y1:321.7},{l:55,r:14,t:12,b:12},'scatter',
    [lineSet(burstTrace(cvnPeak,cvnFloor,true),'#141210',1.4)],
    {x:hidden(0,250),y:scaleY(0,.229,pnYTicks,pnYText,{w:55})});
panel({x0:103.5,y0:327,x1:593,y1:328},{l:55,r:14,t:2,b:14},'scatter',[],
    {x:scaleX(0,250,aXTicks,null,{h:14,color:'#aaa',len:9}),y:hidden(0,1)});
panel({x0:103.5,y0:361.7,x1:593,y1:485.7},{l:55,r:14,t:12,b:14},'scatter',
    [dotSet(zip(tiT,ti),'#E4241F','rect',3.7),dotSet(zip(teT,te),'#2A1A80','rect',3.7)],
    {x:scaleX(0,250,aXTicks,null,{h:14,len:8}),y:scaleY(0,3,tYTicks,tYText,{w:55})});
panel({x0:103.5,y0:526.7,x1:593,y1:664.3},{l:55,r:14,t:12,b:14},'scatter',
    [dotSet(zip(cycleT,fR),'#2E6D65',diamond,4)],
    {x:scaleX(0,250,aXTicks,null,{h:14,len:8}),y:scaleY(0,1,fYTicks,fYText,{w:55})});

// panel B
const tracesToSets = (list,color,w) => list.map(tr=>lineSet(tr.map(p=>({x:p[0],y:p[1]})),color,w));
panel({x0:675,y0:27,x1:1045,y1:177},{l:0,r:0,t:0,b:0},'scatter',
    tracesToSets(redTraces,'#FF3B40',3).concat(tracesToSets(pinkTraces,'#EFA3C0',3)),
    {x:hidden(0,7.55),y:hidden(-.05,1.45)});
panel({x0:675,y0:215,x1:1045,y1:325},{l:0,r:0,t:0,b:0},'scatter',
    tracesToSets(blueTraces,'#3F6CFF',2.8).concat(tracesToSets(lilacTraces,'#8C9EF0',2.4)).concat(tracesToSets(skyTraces,'#6DB8D4',2.4)),
    {x:hidden(0,7.55),y:hidden(-.1,1)});

// panel C, rows drawn as floating bars
const divider = 26;
const withGap = arr => arr.slice(0,divider).concat([null]).concat(arr.slice(divider));
const on = withGap(cOn), rs = withGap(cRedStart), re = withGap(cRedEnd), ce = withGap(cCyanEnd), br = withGap(cBright);
const ls = withGap(cLightS), le = withGap(cLightE), ds = withGap(cDarkS), de = withGap(cDarkE);
const rowNames = on.map((_,i)=>String(i));
function redFill(c){
    if(c.dataIndex===undefined || !c.chart.chartArea || br[c.dataIndex]==null) return '#a00';
    const x = c.chart.scales.x, b = br[c.dataIndex], i = c.dataIndex;
    const g = c.chart.ctx.createLinearGradient(x.getPixelForValue(rs[i]),0,x.getPixelForValue(re[i]),0);
    const w = Math.round(255*b*.72);
    g.addColorStop(0,'rgb('+Math.round(40+40*b)+',0,0)');
    g.addColorStop(.35,'rgb('+Math.round(110+70*b)+','+Math.round(w*.2)+','+Math.round(w*.2)+')');
    g.addColorStop(.75,'rgb(235,'+Math.round(w*.6)+','+Math.round(w*.6)+')');
    g.addColorStop(1,'rgb(255,'+w+','+w+')');
    return g;
}
function cyanFill(c){
    if(c.dataIndex===undefined || !c.chart.chartArea || ce[c.dataIndex]==null) return '#0aa';
    const x = c.chart.scales.x, i = c.dataIndex, a = Math.min(1,.45+br[i]*1.1);
    const px0 = x.getPixelForValue(re[i]), px1 = x.getPixelForValue(ce[i]);
    const g = c.chart.ctx.createLinearGradient(px0,0,px1,0);
    g.addColorStop(0,'rgba(0,255,255,'+a+')');
    g.addColorStop(.25,'rgba(0,240,240,'+a+')');
    g.addColorStop(.5,'rgba(0,110,110,'+a+')');
    g.addColorStop(1,'rgba(0,30,30,'+a+')');
    return g;
}
function lightFill(c){
    if(c.dataIndex===undefined || !c.chart.chartArea || br[c.dataIndex]==null) return 'rgba(0,0,0,0)';
    const x = c.chart.scales.x, i = c.dataIndex, b = br[i];
    const g = c.chart.ctx.createLinearGradient(x.getPixelForValue(ls[i]),0,x.getPixelForValue(le[i]),0);
    g.addColorStop(0,'rgba(255,215,215,0)');
    g.addColorStop(.5,'rgba(255,215,215,'+(.15+.55*b)+')');
    g.addColorStop(1,'rgba(255,215,215,0)');
    return g;
}
const barSet = (data,color) => ({data:data,backgroundColor:color,grouped:false,barPercentage:1,categoryPercentage:1,borderWidth:0,borderSkipped:false});
const cPanel = panel({x0:674,y0:372,x1:1048,y1:690},{l:0,r:0,t:0,b:0},'bar',
    [barSet(on.map((v,i)=>i===divider?[0,3]:null),'#fff'),
     barSet(on.map((v,i)=>v==null?null:[ls[i],le[i]]),lightFill),
     barSet(on.map((v,i)=>v==null?null:[ds[i],de[i]]),'rgba(20,0,0,.38)'),
     barSet(on.map((v,i)=>v==null?null:[re[i],ce[i]==null?re[i]:ce[i]]),cyanFill),
     barSet(on.map((v,i)=>v==null?null:[rs[i],re[i]]),redFill),
     barSet(on.map((v,i)=>v==null?null:[v,rs[i]]),c=>br[c.dataIndex]>.4?'#134f52':'#0a2c2e')],
    {x:hidden(0,3),y:{type:'category',display:false,offset:true}},
    {indexAxis:'y'});
cPanel.data.labels = rowNames;
cPanel.canvas.style.background = '#000';
cPanel.update();

// panels D to G
function meanPanel(rect,m,t,mean,high,low,mark,color,xs,ys){
    const sets = [
        {data:[{x:mark.t,y:mark.v}],showLine:false,pointStyle:'rect',pointRadius:10.5,backgroundColor:'#fff',borderColor:'#aaa',borderWidth:1.2},
        Object.assign(lineSet([{x:mark.tLo,y:mark.v},{x:mark.tHi,y:mark.v}],'#222',2),{pointStyle:'line',pointRotation:90,pointRadius:5.5,pointBorderColor:'#222',pointBorderWidth:2}),
        Object.assign(lineSet([{x:mark.t,y:mark.vLo},{x:mark.t,y:mark.vHi}],'#222',2),{pointStyle:'line',pointRadius:5.5,pointBorderColor:'#222',pointBorderWidth:2}),
        lineSet(zip(t,mean),color,4.6),
        Object.assign(lineSet(zip(t,high),'rgba(0,0,0,0)',0),{fill:'+1',backgroundColor:'#C9C9C9'}),
        lineSet(zip(t,low),'rgba(0,0,0,0)',0)
    ];
    return panel(rect,m,'scatter',sets,{x:xs,y:ys});
}
meanPanel({x0:98,y0:826.5,x1:541,y1:1036.5},{l:55,r:14,t:12,b:14},dT,dMean,dHigh,dLow,dMark,'#E2241E',
    scaleX(0,180,minXTicks,null,{h:14,len:11}),scaleY(.3,1.2,dYTicks,dYText,{w:55}));
meanPanel({x0:661,y0:826.5,x1:1102,y1:1036.5},{l:55,r:14,t:12,b:14},eT,eMean,eHigh,eLow,eMark,'#2A1A78',
    scaleX(0,180,minXTicks,null,{h:14,len:11}),scaleY(.2,1.1,eYTicks,eYText,{w:55}));
meanPanel({x0:98,y0:1098.5,x1:541,y1:1308},{l:55,r:14,t:12,b:40},fT,fMean,fHigh,fLow,fMark,'#35735F',
    scaleX(0,180,minXTicks,minXText,{h:40,len:11}),scaleY(.9,2,fTicks,fTickText,{w:55}));
meanPanel({x0:661,y0:1098.5,x1:1105,y1:1308},{l:55,r:14,t:12,b:40},gT,gMean,gHigh,gLow,gMark,'#943A78',
    scaleX(0,180,minXTicks,minXText,{h:40,len:11}),scaleY(0,1.1,gYTicks,gYText,{w:55}));
</script>
</body>
</html>
